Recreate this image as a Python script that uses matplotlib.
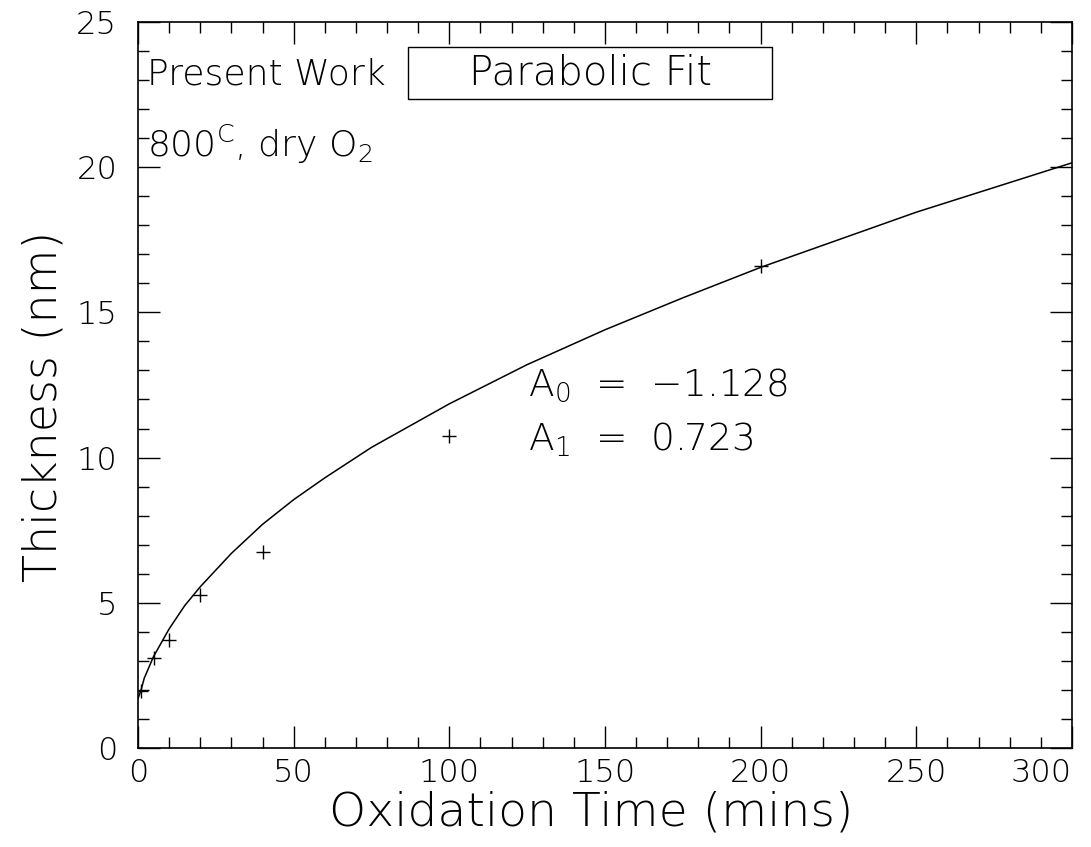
import matplotlib
matplotlib.use("Agg")
import matplotlib.pyplot as plt
from matplotlib.patches import Rectangle
from matplotlib.ticker import MultipleLocator

# measured points (oxidation time in mins, thickness in nm)
time_pts = [1, 5, 10, 20, 40, 100, 200]
thick_pts = [1.95, 3.1, 3.7, 5.25, 6.75, 10.75, 16.6]

# parabolic fit curve
fit_time = [0, 1, 2, 5, 10, 15, 20, 30, 40, 50, 60, 75, 100, 125, 150,
            175, 200, 225, 250, 275, 300]
fit_thick = [1.7, 2.0, 2.4, 3.15, 4.1, 4.9, 5.55, 6.7, 7.7, 8.55, 9.3,
             10.35, 11.85, 13.2, 14.4, 15.5, 16.55, 17.5, 18.45, 19.3, 20.15]

x_ticks = [0, 50, 100, 150, 200, 250, 300]
y_ticks = [0, 5, 10, 15, 20, 25]
fit_params = ['A$_0$  =  \u22121.128', 'A$_1$  =  0.723']

# thin strokes like the original plotter font
plt.rcParams['font.family'] = 'DejaVu Sans'
plt.rcParams['font.weight'] = 200
plt.rcParams['axes.labelweight'] = 200
plt.rcParams['mathtext.fontset'] = 'custom'
plt.rcParams['mathtext.rm'] = 'DejaVu Sans:weight=200'
plt.rcParams['mathtext.it'] = 'DejaVu Sans:weight=200'

fig = plt.figure(figsize=(10.91, 8.47), dpi=100)
ax = fig.add_axes([0.1265, 0.117, 0.856, 0.857])

ax.plot(fit_time, fit_thick, color='black', lw=1.1)
ax.plot(time_pts, thick_pts, ls='none', marker='+', ms=10, mew=1.0,
        color='black')

ax.set_xlim(0, 300)
ax.set_ylim(0, 25)
ax.set_xticks(x_ticks)
ax.set_yticks(y_ticks)
ax.xaxis.set_minor_locator(MultipleLocator(10))
ax.yaxis.set_minor_locator(MultipleLocator(1))
ax.tick_params(which='both', direction='in', top=True, right=True,
               width=1.0, labelsize=23)
ax.tick_params(which='major', length=16)
ax.tick_params(which='minor', length=8)
ax.tick_params(axis='x', pad=7)
ax.tick_params(axis='y', pad=15)
for s in ax.spines.values():
    s.set_linewidth(1.2)

# last x label sits inside the frame, as in the original
ax.get_xticklabels()[-1].set_ha('right')

ax.set_xlabel('Oxidation Time (mins)', fontsize=34, labelpad=2)
ax.xaxis.label.set_x(0.485)
ax.set_ylabel('Thickness (nm)', fontsize=33, labelpad=8)
ax.yaxis.label.set_y(0.47)

ax.text(0.01, 0.928, 'Present Work', transform=ax.transAxes,
        fontsize=26, va='center', ha='left')
ax.text(0.01, 0.831, '800$^{\\rm C}$, dry O$_2$', transform=ax.transAxes,
        fontsize=26, va='center', ha='left')
ax.add_patch(Rectangle((0.289, 0.894), 0.39, 0.072, transform=ax.transAxes,
                       fill=False, ec='black', lw=1.0))
ax.text(0.484, 0.93, 'Parabolic Fit', transform=ax.transAxes,
        fontsize=29, va='center', ha='center')
ax.text(0.418, 0.5, fit_params[0], transform=ax.transAxes,
        fontsize=27, va='center', ha='left')
ax.text(0.418, 0.424, fit_params[1], transform=ax.transAxes,
        fontsize=27, va='center', ha='left')

fig.savefig('out.png', dpi=100)
